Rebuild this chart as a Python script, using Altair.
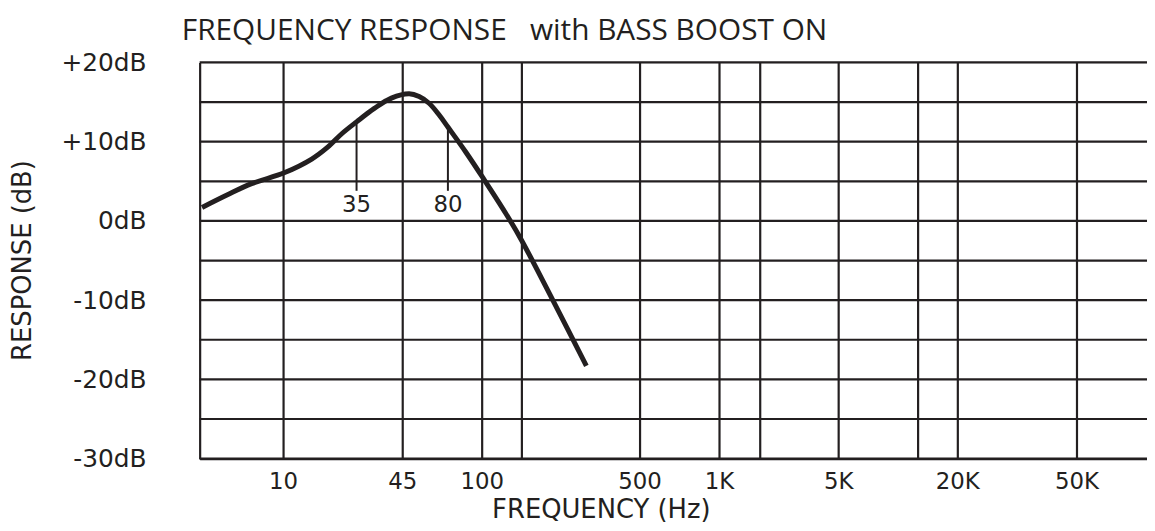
import altair as alt
import pandas as pd

# Curve (frequency in Hz, response in dB)
FREQ_HZ = [5.1, 6.3, 7.7, 10.3, 16.3, 21.4, 27.2, 35, 38.6, 42.4, 49.1, 55.7,
           63.1, 71.5, 80, 90, 103.5, 151.6, 200, 260, 331]
RESP_DB = [1.7, 3.3, 4.7, 6.1, 7.8, 9.3, 11.0, 12.5, 14.2, 15.5, 16.05, 15.7,
           14.85, 13.4, 11.85, 8.7, 5.3, 1.0, -2.4, -10.6, -18.3]

# Annotated corner frequencies
ANNOT_FREQ = [35, 80]
ANNOT_LABEL = ["35", "80"]
ANNOT_TOP_DB = [12.5, 11.85]
ANNOT_BOTTOM_DB = [3.8, 3.8]
ANNOT_TEXT_DB = [2.0, 2.0]

# Axis ticks
X_TICK_VALUES = [10, 45, 100, 200, 500, 1000, 2000, 5000, 10000, 20000, 50000]
X_TICK_LABELS = ["10", "45", "100", "", "500", "1K", "", "5K", "", "20K", "50K"]
Y_TICK_VALUES = [-30, -25, -20, -15, -10, -5, 0, 5, 10, 15, 20]
Y_TICK_LABELS = ["-30dB", "", "-20dB", "", "-10dB", "", "0dB", "", "+10dB", "", "+20dB"]

# The printed frequency grid is hand-spaced: piecewise log scale breakpoints
X_BREAK_HZ = [5, 10, 35, 45, 80, 100, 200, 500, 1000, 2000, 5000, 10000, 20000, 50000, 100000]
X_BREAK_PX = [0, 84, 158, 204, 250, 284, 324, 443, 523, 564, 643, 723, 763, 883, 956]

W, H = 954, 399
INK = "#231f20"
FONT = "DejaVu Sans"


def label_expr(values, labels):
    expr = "''"
    for v, l in reversed(list(zip(values, labels))):
        expr = f"datum.value == {v} ? '{l}' : ({expr})"
    return expr


curve = pd.DataFrame({"freq": FREQ_HZ, "db": RESP_DB})
annot = pd.DataFrame({"freq": ANNOT_FREQ, "label": ANNOT_LABEL, "top": ANNOT_TOP_DB,
                      "bottom": ANNOT_BOTTOM_DB, "ty": ANNOT_TEXT_DB})
ygrid = pd.DataFrame({"db": Y_TICK_VALUES})

xscale = alt.Scale(type="log", domain=X_BREAK_HZ, range=X_BREAK_PX, nice=False)
yscale = alt.Scale(domain=[-30, 20], nice=False, zero=False)

xaxis = alt.Axis(
    values=X_TICK_VALUES, labelExpr=label_expr(X_TICK_VALUES, X_TICK_LABELS),
    grid=True, gridColor=INK, gridWidth=2.2, gridOpacity=1,
    domainColor=INK, domainWidth=2.2, ticks=False,
    labelFont=FONT, labelFontSize=23, labelColor=INK, labelPadding=12,
    labelOverlap=False, labelFlush=False,
    title="FREQUENCY (Hz)", titleFont=FONT, titleFontSize=26, titleFontWeight="normal",
    titleColor=INK, titleX=404, titleY=51, titleAlign="center", titleBaseline="middle",
    titleAnchor="start",
)
yaxis = alt.Axis(
    values=Y_TICK_VALUES, labelExpr=label_expr(Y_TICK_VALUES, Y_TICK_LABELS),
    grid=False,
    domainColor=INK, domainWidth=2.2, ticks=False,
    labelFont=FONT, labelFontSize=25, labelColor=INK, labelPadding=54,
    labelAlign="right", labelBaseline="middle", labelOverlap=False, labelFlush=False,
    title="RESPONSE (dB)", titleFont=FONT, titleFontSize=26, titleFontWeight="normal",
    titleColor=INK, titleX=-178, titleY=199, titleAngle=270, titleAlign="center",
    titleBaseline="middle", titleAnchor="start",
)

hgrid = alt.Chart(ygrid).mark_rule(color=INK, strokeWidth=2.2).encode(
    y=alt.Y("db:Q", scale=yscale, axis=yaxis)
)
line = alt.Chart(curve).mark_line(color=INK, strokeWidth=5, interpolate="catmull-rom").encode(
    x=alt.X("freq:Q", scale=xscale, axis=xaxis),
    y=alt.Y("db:Q", scale=yscale, axis=yaxis),
)
rules = alt.Chart(annot).mark_rule(color=INK, strokeWidth=2).encode(
    x=alt.X("freq:Q", scale=xscale, axis=xaxis),
    y=alt.Y("top:Q", scale=yscale, axis=yaxis), y2="bottom:Q"
)
texts = alt.Chart(annot).mark_text(font=FONT, fontSize=23, color=INK, baseline="middle").encode(
    x=alt.X("freq:Q", scale=xscale, axis=xaxis),
    y=alt.Y("ty:Q", scale=yscale, axis=yaxis), text="label:N"
)

chart = alt.layer(hgrid, rules, line, texts).properties(
    width=W, height=H,
    autosize=alt.AutoSizeParams(type="none"),
    padding={"left": 193, "top": 53, "right": 0, "bottom": 63},
    title=alt.TitleParams(
        "FREQUENCY RESPONSE\u00a0\u00a0 with BASS BOOST ON",
        anchor="start", frame="group", dx=-18, font="Open Sans", fontSize=30,
        fontWeight="normal", color=INK, offset=5,
    ),
).configure_view(stroke=None).configure(background="white")

chart.save("out.html", embed_options={"renderer": "svg", "actions": False})
